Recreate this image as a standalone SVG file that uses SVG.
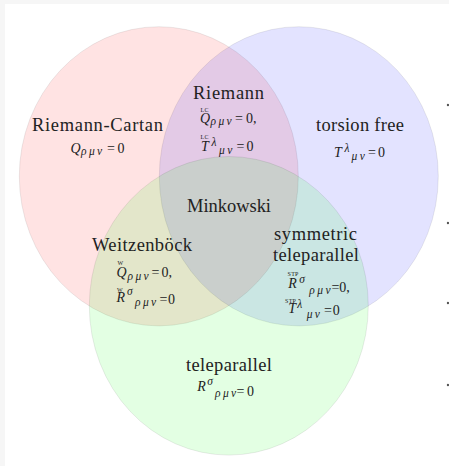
<svg xmlns="http://www.w3.org/2000/svg" width="449" height="466" viewBox="0 0 449 466">
<style>
.t{font-family:"Liberation Serif","Times New Roman",serif;font-size:18.5px;fill:#222;text-anchor:middle}
.m{font-family:"Liberation Serif","Times New Roman",serif;font-size:14px;fill:#222}
.i{font-style:italic}
.s{font-style:italic;font-size:11.5px;letter-spacing:2.4px}
.a{font-size:6px;letter-spacing:0.3px}
.set{stroke:#000;stroke-opacity:0.08;stroke-width:1}
</style>
<rect x="0" y="0" width="449" height="466" fill="#ffffff"/>
<rect x="0" y="0" width="449" height="4" fill="#f6f6f6"/>
<rect x="0" y="0" width="5" height="466" fill="#f6f6f6"/>
<g id="sets">
<ellipse class="set" cx="158.8" cy="176.3" rx="139.5" ry="149.6" fill="#ff0000" fill-opacity="0.11"/>
<ellipse class="set" cx="298.8" cy="176.3" rx="139.5" ry="149.6" fill="#0000ff" fill-opacity="0.11"/>
<ellipse class="set" cx="228.8" cy="305.8" rx="139.5" ry="149.3" fill="#00ff00" fill-opacity="0.11"/>
</g>
<g id="connectors"></g>
<g id="riemann-cartan">
<text class="t" x="97.5" y="131" textLength="131">Riemann-Cartan</text>
<text class="m"><tspan class="i" x="70.5" y="152.5">Q</tspan><tspan class="s" x="81" y="155">ρμν</tspan><tspan x="107" y="152.5">=</tspan><tspan x="117.5" y="152.5">0</tspan></text>
</g>
<g id="riemann">
<text class="t" x="228.5" y="98.5" textLength="71">Riemann</text>
<text class="m"><tspan class="a" x="200.5" y="111.5">LC</tspan><tspan class="i" x="200" y="122.5">Q</tspan><tspan class="s" x="210.5" y="125">ρμν</tspan><tspan x="235" y="122.5">=</tspan><tspan x="246" y="122.5">0,</tspan></text>
<text class="m"><tspan class="a" x="200.5" y="139">LC</tspan><tspan class="i" x="201" y="150.5">T</tspan><tspan class="s" x="211.5" y="145.5">λ</tspan><tspan class="s" x="219" y="153.5">μν</tspan><tspan x="236.5" y="150.5">=</tspan><tspan x="246.5" y="150.5">0</tspan></text>
</g>
<g id="torsion-free">
<text class="t" x="360" y="131" textLength="88">torsion free</text>
<text class="m"><tspan class="i" x="334" y="156.5">T</tspan><tspan class="s" x="344.5" y="151.5">λ</tspan><tspan class="s" x="351.5" y="159.5">μν</tspan><tspan x="368" y="157">=</tspan><tspan x="378" y="157">0</tspan></text>
</g>
<g id="minkowski">
<text class="t" x="229" y="212" textLength="84">Minkowski</text>
</g>
<g id="weitzenbock">
<text class="t" x="142" y="250.5" textLength="100">Weitzenböck</text>
<text class="m"><tspan class="a" x="117.5" y="264.5">W</tspan><tspan class="i" x="116.5" y="277">Q</tspan><tspan class="s" x="127.5" y="279.5">ρμν</tspan><tspan x="151.5" y="277">=</tspan><tspan x="161.5" y="277">0,</tspan></text>
<text class="m"><tspan class="a" x="117" y="291.5">W</tspan><tspan class="i" x="116.5" y="302">R</tspan><tspan class="s" x="127" y="295">σ</tspan><tspan class="s" x="135" y="306">ρμν</tspan><tspan x="159.5" y="304">=</tspan><tspan x="168" y="304">0</tspan></text>
</g>
<g id="symmetric-teleparallel">
<text class="t" x="315.5" y="239.5" textLength="83">symmetric</text>
<text class="t" x="316" y="261" textLength="86">teleparallel</text>
<text class="m"><tspan class="a" x="287.5" y="276">STP</tspan><tspan class="i" x="288.3" y="288.3">R</tspan><tspan class="s" x="299.3" y="283">σ</tspan><tspan class="s" x="309.3" y="294">ρμν</tspan><tspan x="331.5" y="291.5">=</tspan><tspan x="339.3" y="291.5">0,</tspan></text>
<text class="m"><tspan class="a" x="285" y="302.5">STP</tspan><tspan class="i" x="288.3" y="313.3">T</tspan><tspan class="s" x="297.3" y="308">λ</tspan><tspan class="s" x="306.7" y="317.5">μν</tspan><tspan x="324" y="315">=</tspan><tspan x="332.7" y="315">0</tspan></text>
</g>
<g id="teleparallel">
<text class="t" x="229" y="371" textLength="86">teleparallel</text>
<text class="m"><tspan class="i" x="197.3" y="390.5">R</tspan><tspan class="s" x="207.3" y="385">σ</tspan><tspan class="s" x="215" y="397">ρμν</tspan><tspan x="236.5" y="396">=</tspan><tspan x="247" y="396">0</tspan></text>
</g>
<g id="margin-dots" fill="#555">
<circle cx="448" cy="105" r="1.2"/>
<circle cx="448" cy="223" r="1.2"/>
<circle cx="448" cy="303" r="1.2"/>
<circle cx="448" cy="385" r="1.2"/>
</g>
</svg>
